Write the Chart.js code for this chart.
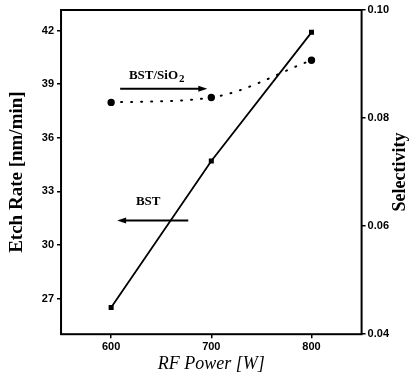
<!DOCTYPE html>
<html>
<head>
<meta charset="utf-8">
<script src="https://cdn.jsdelivr.net/npm/chart.js@4"></script>
<style>
  html, body { margin: 0; padding: 0; background: #fff; }
  #wrap { width: 411px; height: 376px; }
</style>
</head>
<body>
<div id="wrap"><canvas id="etchChart"></canvas></div>
<script>
// data
const rfPower = [600, 700, 800];
const bstEtchRate = [26.5, 34.7, 41.9];
const selectivity = [0.0829, 0.0838, 0.0907];

const xTicks = [600, 700, 800];
const leftTicks = [27, 30, 33, 36, 39, 42];
const rightTicks = [0.04, 0.06, 0.08, 0.10];

// arrow annotations (data coords on left axis)
const notes = [
  { text: "BST/SiO", sub: "2", x: 645, y: 39.5, from: 609, to: 696, arrowY: 38.74 },
  { text: "BST", sub: "", x: 637, y: 32.4, from: 677, to: 606, arrowY: 31.37 }
];

const frameAndNotes = {
  id: "frameAndNotes",
  afterDraw(chart) {
    const { ctx, chartArea: a, scales } = chart;
    ctx.save();
    ctx.strokeStyle = "#000";
    ctx.lineWidth = 2;
    ctx.strokeRect(a.left, a.top, a.right - a.left, a.bottom - a.top);

    ctx.fillStyle = "#000";
    notes.forEach(n => {
      // label
      ctx.font = "bold 13px 'Liberation Serif'";
      ctx.textBaseline = "middle";
      const w1 = ctx.measureText(n.text).width;
      ctx.font = "bold 11px 'Liberation Serif'";
      const w2 = n.sub ? ctx.measureText(n.sub).width : 0;
      const cx = scales.x.getPixelForValue(n.x);
      const cy = scales.y.getPixelForValue(n.y);
      let sx = cx - (w1 + w2) / 2;
      ctx.font = "bold 13px 'Liberation Serif'";
      ctx.textAlign = "left";
      ctx.fillText(n.text, sx, cy);
      if (n.sub) {
        ctx.font = "bold 11px 'Liberation Serif'";
        ctx.fillText(n.sub, sx + w1 + 1, cy + 4);
      }
      // arrow
      const x0 = scales.x.getPixelForValue(n.from);
      const x1 = scales.x.getPixelForValue(n.to);
      const ay = scales.y.getPixelForValue(n.arrowY);
      const dir = x1 > x0 ? 1 : -1;
      ctx.lineWidth = 2;
      ctx.beginPath();
      ctx.moveTo(x0, ay);
      ctx.lineTo(x1 - dir * 6, ay);
      ctx.stroke();
      ctx.beginPath();
      ctx.moveTo(x1, ay);
      ctx.lineTo(x1 - dir * 9, ay - 3);
      ctx.lineTo(x1 - dir * 9, ay + 3);
      ctx.closePath();
      ctx.fill();
    });

    // right axis title, reading bottom to top like the left one
    ctx.save();
    ctx.translate(chart.width - 11, 172);
    ctx.rotate(-Math.PI / 2);
    ctx.font = "bold 18px 'Liberation Serif'";
    ctx.textAlign = "center";
    ctx.textBaseline = "middle";
    ctx.fillText("Selectivity", 0, 0);
    ctx.restore();

    ctx.restore();
  }
};

const ctx = document.getElementById("etchChart").getContext("2d");

new Chart(ctx, {
  type: "line",
  data: {
    datasets: [
      {
        label: "BST",
        data: rfPower.map((x, i) => ({ x: x, y: bstEtchRate[i] })),
        yAxisID: "y",
        borderColor: "#000",
        backgroundColor: "#000",
        borderWidth: 1.8,
        pointStyle: "rect",
        pointRadius: 2.3,
        tension: 0
      },
      {
        label: "BST/SiO2",
        data: rfPower.map((x, i) => ({ x: x, y: selectivity[i] })),
        yAxisID: "y2",
        borderColor: "#000",
        backgroundColor: "#000",
        borderWidth: 2,
        borderDash: [1, 9],
        borderCapStyle: "round",
        pointStyle: "circle",
        pointRadius: 2.7,
        cubicInterpolationMode: "monotone"
      }
    ]
  },
  options: {
    responsive: true,
    maintainAspectRatio: false,
    animation: false,
    layout: { padding: { top: 10, right: 20, bottom: 1, left: 6 } },
    plugins: {
      legend: { display: false },
      tooltip: { enabled: false }
    },
    scales: {
      x: {
        type: "linear",
        min: 550,
        max: 850,
        afterBuildTicks: axis => { axis.ticks = xTicks.map(v => ({ value: v })); },
        grid: { drawOnChartArea: false, color: "#000", tickLength: 4, lineWidth: 1.5 },
        border: { display: false },
        ticks: { color: "#000", font: { family: "'Liberation Sans'", size: 11, weight: "bold" }, padding: 2 },
        title: {
          display: true,
          text: "RF Power [W]",
          color: "#000",
          font: { family: "'Liberation Serif'", size: 18, style: "italic" },
          padding: { top: -2, bottom: 0 }
        }
      },
      y: {
        type: "linear",
        position: "left",
        min: 25,
        max: 43.15,
        afterBuildTicks: axis => { axis.ticks = leftTicks.map(v => ({ value: v })); },
        grid: { drawOnChartArea: false, color: "#000", tickLength: 4, lineWidth: 1.5 },
        border: { display: false },
        ticks: { color: "#000", font: { family: "'Liberation Sans'", size: 11, weight: "bold" }, padding: 3 },
        title: {
          display: true,
          text: "Etch Rate [nm/min]",
          color: "#000",
          font: { family: "'Liberation Serif'", size: 19, weight: "bold" },
          padding: { top: 0, bottom: 10 }
        }
      },
      y2: {
        type: "linear",
        position: "right",
        min: 0.04,
        max: 0.10,
        afterBuildTicks: axis => { axis.ticks = rightTicks.map(v => ({ value: v })); },
        grid: { drawOnChartArea: false, color: "#000", tickLength: 4, lineWidth: 1.5 },
        border: { display: false },
        ticks: {
          color: "#000",
          font: { family: "'Liberation Sans'", size: 11, weight: "bold" },
          padding: 2,
          callback: v => v.toFixed(2)
        }
      }
    }
  },
  plugins: [frameAndNotes]
});
</script>
</body>
</html>
